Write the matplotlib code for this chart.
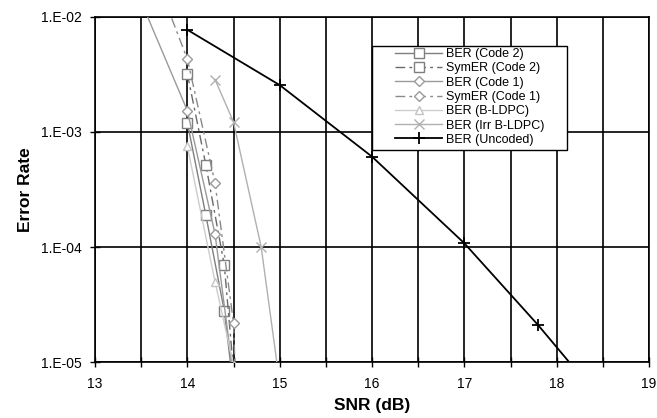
import matplotlib
matplotlib.use("Agg")
import math
import matplotlib.pyplot as plt
from matplotlib.patches import Rectangle
from matplotlib.ticker import FixedLocator, FuncFormatter, NullLocator

plt.rcParams['font.family'] = ['Liberation Sans', 'DejaVu Sans']

# ---- data ----
code2_ber_x = [14.0, 14.2, 14.4, 14.5]
code2_ber_y = [1.2e-3, 1.9e-4, 2.8e-5, 6.0e-6]

code2_sym_x = [14.0, 14.2, 14.4, 14.5]
code2_sym_y = [3.2e-3, 5.2e-4, 7.0e-5, 8.5e-6]

code1_ber_x = [13.5, 14.0, 14.3, 14.5]
code1_ber_y = [1.35e-2, 1.53e-3, 1.3e-4, 7.5e-6]

code1_sym_x = [13.5, 14.0, 14.3, 14.5, 14.55]
code1_sym_y = [4.7e-2, 4.3e-3, 3.6e-4, 2.2e-5, 1.5e-6]

bldpc_x = [14.0, 14.3, 14.5]
bldpc_y = [7.5e-4, 5.0e-5, 9.5e-6]

irr_x = [14.3, 14.5, 14.8, 15.0]
irr_y = [2.85e-3, 1.22e-3, 1.0e-4, 6.6e-6]

unc_x = [14.0, 15.0, 16.0, 17.0, 17.8, 18.5]
unc_y = [7.7e-3, 2.55e-3, 6.1e-4, 1.08e-4, 2.1e-5, 4.5e-6]

labels = ["BER (Code 2)", "SymER (Code 2)", "BER (Code 1)", "SymER (Code 1)",
          "BER (B-LDPC)", "BER (Irr B-LDPC)", "BER (Uncoded)"]

x_ticks = [13, 14, 15, 16, 17, 18, 19]
y_ticks = [1e-5, 1e-4, 1e-3, 1e-2]

W, H = 657, 418
fig = plt.figure(figsize=(W/100, H/100), dpi=100)
ax = fig.add_axes([95/W, 1-362.3/H, (649-95)/W, (362.3-16.7)/H])

dash = (0, (7, 3, 2, 3))
ax.plot(code2_ber_x, code2_ber_y, color='#7f7f7f', lw=1.0, marker='s', ms=6.5,
        mfc='white', mec='#7f7f7f', mew=1.0, label=labels[0], zorder=4)
ax.plot(code2_sym_x, code2_sym_y, color='#6a6a6a', lw=1.0, ls=dash, marker='s', ms=6.5,
        mfc='white', mec='#7f7f7f', mew=1.0, label=labels[1], zorder=4)
ax.plot(code1_ber_x, code1_ber_y, color='#9a9a9a', lw=1.0, marker='D', ms=5.5,
        mfc='white', mec='#9a9a9a', mew=1.0, label=labels[2], zorder=4)
ax.plot(code1_sym_x, code1_sym_y, color='#8a8a8a', lw=1.0, ls=dash, marker='D', ms=5.5,
        mfc='white', mec='#9a9a9a', mew=1.0, label=labels[3], zorder=4)
ax.plot(bldpc_x, bldpc_y, color='#cccccc', lw=1.0, marker='^', ms=6,
        mfc='white', mec='#c4c4c4', mew=1.0, label=labels[4], zorder=4)
ax.plot(irr_x, irr_y, color='#b0b0b0', lw=1.0, marker='x', ms=7,
        mec='#b0b0b0', mew=1.0, label=labels[5], zorder=4)
ax.plot(unc_x, unc_y, color='black', lw=1.3, marker='+', ms=8,
        mec='black', mew=1.3, label=labels[6], zorder=5)

ax.set_yscale('log')
ax.set_xlim(13, 19)
ax.set_ylim(1e-5, 1e-2)

ax.xaxis.set_major_locator(FixedLocator(x_ticks))
ax.xaxis.set_minor_locator(FixedLocator([v + 0.5 for v in x_ticks[:-1]]))
ax.yaxis.set_major_locator(FixedLocator(y_ticks))
ax.yaxis.set_minor_locator(NullLocator())

def yfmt(v, pos):
    e = int(round(math.log10(v)))
    return "1.E%s%02d" % ('-' if e < 0 else '+', abs(e))
ax.yaxis.set_major_formatter(FuncFormatter(yfmt))

ax.grid(True, which='major', color='black', lw=1.2)
ax.grid(True, which='minor', axis='x', color='black', lw=1.2)
ax.set_axisbelow(True)

ax.tick_params(axis='both', which='both', direction='inout', length=7, width=1,
               labelsize=10, colors='black')
ax.tick_params(axis='x', pad=7)
ax.tick_params(axis='y', pad=6)
for s in ax.spines.values():
    s.set_color('black')
    s.set_linewidth(1.2)

ax.set_xlabel('SNR (dB)', fontsize=12.5, fontweight='bold', labelpad=5)
ax.set_ylabel('Error Rate', fontsize=12.5, fontweight='bold', labelpad=6)

# legend frame (drawn as a rectangle to match the wide side padding)
frame = Rectangle((372/W, 1-150/H), 195/W, 104/H, transform=fig.transFigure,
                  facecolor='white', edgecolor='black', lw=1.0, zorder=9)
ax.add_patch(frame)
frame.set_clip_on(False)

ax_x = lambda px: (px - 95) / (649 - 95)
ax_y = lambda py: (362.3 - py) / (362.3 - 16.7)
leg = ax.legend(loc='upper left', bbox_to_anchor=(ax_x(391), ax_y(44.5)),
                borderaxespad=0, fontsize=9, frameon=False,
                borderpad=0.3, labelspacing=0.18,
                handlelength=3.8, handletextpad=0.3)
leg.set_zorder(10)

fig.savefig('out.png', dpi=100)
